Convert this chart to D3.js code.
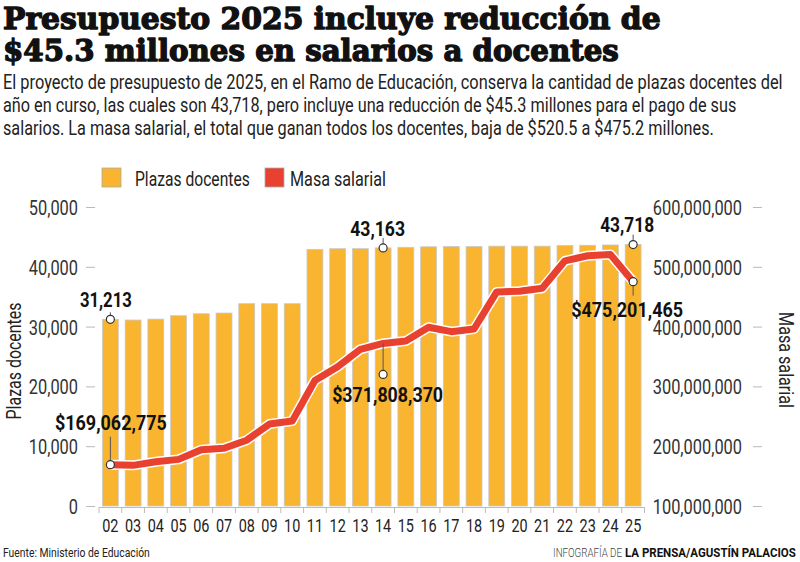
<!DOCTYPE html>
<html><head><meta charset="utf-8">
<script src="https://cdn.jsdelivr.net/npm/d3@7"></script>
<style>body{margin:0;background:#fff} svg{display:block}</style>
</head><body><svg id="c" width="800" height="562"></svg>
<script>
const years = ["02","03","04","05","06","07","08","09","10","11","12","13","14","15","16","17","18","19","20","21","22","23","24","25"];
const plazas = [31213,31100,31250,31820,32150,32270,33830,33830,33830,42920,43030,43030,43163,43260,43350,43400,43400,43450,43450,43450,43550,43600,43650,43718];
const masa = [169062775,168000000,174000000,178000000,194000000,196500000,210000000,237000000,242000000,310000000,333000000,362000000,371808370,376000000,399000000,391500000,396000000,458000000,459000000,464000000,510000000,518500000,520500000,475201465];
const leftTicks = [0,10000,20000,30000,40000,50000];
const rightTicks = [100000000,200000000,300000000,400000000,500000000,600000000];
const titleLines = ["Presupuesto 2025 incluye reducción de","$45.3 millones en salarios a docentes"];
const subtitleLines = ["El proyecto de presupuesto de 2025, en el Ramo de Educación, conserva la cantidad de plazas docentes del",
  "año en curso, las cuales son 43,718, pero incluye una reducción de $45.3 millones para el pago de sus",
  "salarios. La masa salarial, el total que ganan todos los docentes, baja de $520.5 a $475.2 millones."];
const legendLabels = ["Plazas docentes","Masa salarial"];

const ORANGE = "#F9B530", RED = "#E9412F";
const FONT = "Roboto, 'Noto Sans', sans-serif";
const svg = d3.select("#c");

// horizontally squeeze a text node about its anchor point, to a width or by a factor
function squeeze(node, opts){
  const w = node.getComputedTextLength();
  const f = opts.w ? opts.w / w : opts.f;
  const ax = +(node.getAttribute("x")||0), ay = +(node.getAttribute("y")||0);
  const pre = node.getAttribute("transform") || "";
  node.setAttribute("transform", `${pre} translate(${ax},${ay}) scale(${f},1) translate(${-ax},${-ay})`);
}
function fit(sel, w){ sel.each(function(){ squeeze(this,{w}); }); return sel; }
function condense(sel, f){ sel.each(function(){ squeeze(this,{f}); }); return sel; }

// Title
titleLines.forEach((t,i)=>{
  fit(svg.append("text").attr("x",3).attr("y",[29,61][i]).attr("font-family","'DejaVu Serif', serif")
    .attr("font-weight","bold").attr("font-size",30).attr("fill","#111").attr("stroke","#111").attr("stroke-width",1.4)
    .attr("stroke-linejoin","round").text(t), [658,616][i]);
});
// Subtitle
subtitleLines.forEach((t,i)=>{
  fit(svg.append("text").attr("x",3).attr("y",[89,112,135][i]).attr("font-family",FONT)
    .attr("font-size",19.5).attr("fill","#222").text(t), [780,734,711][i]);
});

// Legend
const leg = [{x:102,c:ORANGE,tx:135,w:115},{x:265,c:RED,tx:290,w:96}];
leg.forEach((l,i)=>{
  svg.append("rect").attr("x",l.x).attr("y",168).attr("width",19).attr("height",19).attr("fill",l.c).attr("stroke","#aaa").attr("stroke-width",0.8);
  fit(svg.append("text").attr("x",l.tx).attr("y",186).attr("font-family",FONT).attr("font-size",20).attr("fill","#222").text(legendLabels[i]), l.w);
});

// Scales
const x = d3.scaleBand().domain(years).range([99,644.5]).paddingInner(0.3).paddingOuter(0.15);
const yL = d3.scaleLinear().domain([0,50000]).range([506,207]);
const yR = d3.scaleLinear().domain([100000000,600000000]).range([506,207]);
const cx = d => x(d) + x.bandwidth()/2;

// Bars
svg.append("g").selectAll("rect").data(years).join("rect")
  .attr("x", d=>x(d)).attr("width", x.bandwidth())
  .attr("y", (d,i)=>yL(plazas[i])).attr("height",(d,i)=>yL(0)-yL(plazas[i]))
  .attr("fill",ORANGE).attr("stroke","#c9c9c9").attr("stroke-width",0.8);

// Left axis
const gl = svg.append("g").attr("transform","translate(95,0)")
  .call(d3.axisLeft(yL).tickValues(leftTicks).tickSize(9).tickPadding(8).tickFormat(d3.format(",")));
gl.select(".domain").remove();
gl.selectAll("line").attr("stroke","#bbb");
gl.selectAll("text").attr("font-family",FONT).attr("font-size",21).attr("fill","#333").attr("dy","0.36em");
condense(gl.selectAll("text"), 0.78);

// Right axis (labels left of ticks)
const gr = svg.append("g").attr("transform","translate(762,0)")
  .call(d3.axisLeft(yR).tickValues(rightTicks).tickSize(9).tickPadding(11).tickFormat(d3.format(",")));
gr.select(".domain").remove();
gr.selectAll("line").attr("stroke","#bbb");
gr.selectAll("text").attr("font-family",FONT).attr("font-size",21).attr("fill","#333").attr("dy","0.36em");
condense(gr.selectAll("text"), 0.78);

// X axis
const gx = svg.append("g").attr("transform","translate(0,507)")
  .call(d3.axisBottom(x).tickSize(0).tickSizeOuter(0).tickPadding(12));
gx.select(".domain").attr("stroke","#bbb");
gx.selectAll("text").attr("font-family",FONT).attr("font-size",18.5).attr("fill","#222").attr("dy","0.71em");
condense(gx.selectAll("text"), 0.78);
// boundary ticks
const step = x.step();
svg.append("g").selectAll("line").data(d3.range(years.length+1)).join("line")
  .attr("x1", i=>x(years[0]) - x.paddingInner()*step/2 + i*step)
  .attr("x2", i=>x(years[0]) - x.paddingInner()*step/2 + i*step)
  .attr("y1",507).attr("y2",513).attr("stroke","#bbb");

// Line
const line = d3.line().x((d,i)=>cx(years[i])).y(d=>yR(d)).curve(d3.curveLinear);
svg.append("path").datum(masa).attr("d",line).attr("fill","none").attr("stroke","#fff").attr("stroke-width",10).attr("stroke-linejoin","round");
svg.append("path").datum(masa).attr("d",line).attr("fill","none").attr("stroke",RED).attr("stroke-width",7).attr("stroke-linejoin","round");

// Axis titles
fit(svg.append("text").attr("transform","translate(21,361) rotate(-90)").attr("text-anchor","middle")
  .attr("font-family",FONT).attr("font-size",21).attr("fill","#222").text("Plazas docentes"),117);
fit(svg.append("text").attr("transform","translate(779,360) rotate(90)").attr("text-anchor","middle")
  .attr("font-family",FONT).attr("font-size",21).attr("fill","#222").text("Masa salarial"),96);

// Annotations
const i0 = 0, i14 = years.indexOf("14"), i25 = years.length-1;
const ann = [
  {px:cx(years[i0]), py:yL(plazas[i0]), ly1:-1, ly2:-7, tx:-4.5, ty:-12, w:52, text:d3.format(",")(plazas[i0])},
  {px:cx(years[i0]), py:yR(masa[i0]), ly1:-3, ly2:-28, tx:0.5, ty:-35, w:112, text:"$"+d3.format(",")(masa[i0])},
  {px:cx(years[i14]), py:yL(plazas[i14]), ly1:-3, ly2:-10, tx:-5.5, ty:-12, w:55, text:d3.format(",")(plazas[i14])},
  {px:cx(years[i14]), py:yR(masa[i14])+31, ly1:-3, ly2:-31, tx:4.5, ty:28, w:111, text:"$"+d3.format(",")(masa[i14])},
  {px:cx(years[i25]), py:yL(plazas[i25]), ly1:-3, ly2:-10, tx:-6, ty:-12.5, w:54, text:d3.format(",")(plazas[i25])},
  {px:cx(years[i25]), py:yR(masa[i25]), ly1:3, ly2:14, tx:-6, ty:35.5, w:112, text:"$"+d3.format(",")(masa[i25])}
];
ann.forEach(a=>{
  svg.append("line").attr("x1",a.px).attr("x2",a.px).attr("y1",a.py+a.ly1).attr("y2",a.py+a.ly2).attr("stroke","#555").attr("stroke-width",1);
  svg.append("circle").attr("cx",a.px).attr("cy",a.py).attr("r",4).attr("fill","#fff").attr("stroke","#333").attr("stroke-width",1.2);
  fit(svg.append("text").attr("x",a.px+a.tx).attr("y",a.py+a.ty).attr("text-anchor","middle")
    .attr("font-family",FONT).attr("font-weight","bold").attr("font-size",21).attr("fill","#111").text(a.text), a.w);
});

// Footer
fit(svg.append("text").attr("x",3).attr("y",557).attr("font-family",FONT).attr("font-size",12.5).attr("fill","#222").text("Fuente: Ministerio de Educación"),147);
fit(svg.append("text").attr("x",622).attr("y",557).attr("text-anchor","end").attr("font-family",FONT).attr("font-weight",300).attr("font-size",12.5).attr("fill","#444").text("INFOGRAFÍA DE"),69);
fit(svg.append("text").attr("x",625).attr("y",557).attr("font-family",FONT).attr("font-weight","bold").attr("font-size",12.5).attr("fill","#111").text("LA PRENSA/AGUSTÍN PALACIOS"),171);
</script></body></html>
